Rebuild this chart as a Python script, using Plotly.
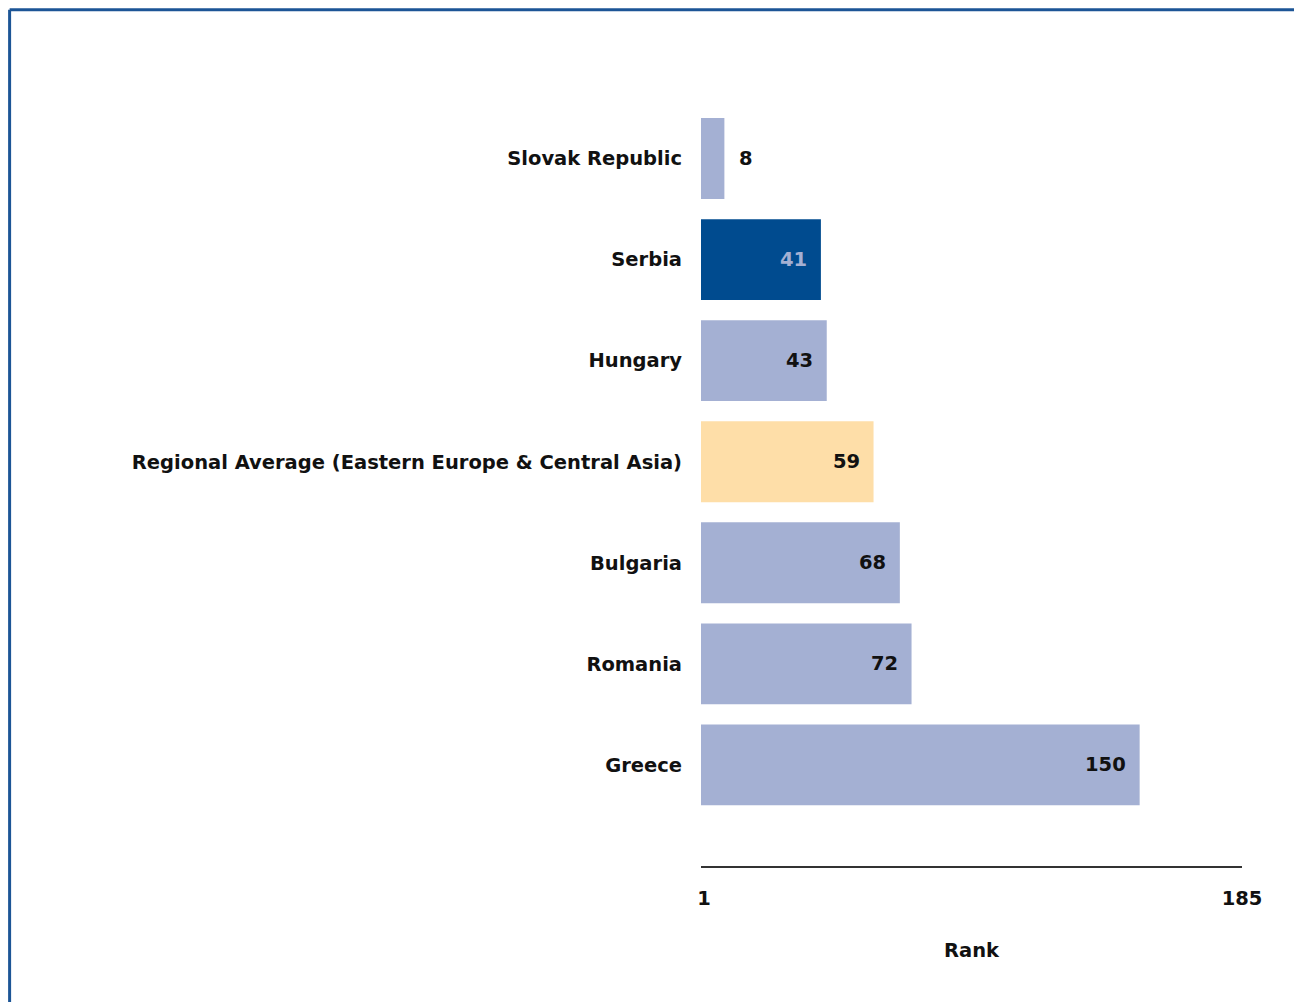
import plotly.graph_objects as go

# Ranking data (bottom to top)
countries = ["Greece", "Romania", "Bulgaria",
             "Regional Average (Eastern Europe & Central Asia)",
             "Hungary", "Serbia", "Slovak Republic"]
ranks = [150, 72, 68, 59, 43, 41, 8]
bar_colors = ["#a4b0d3", "#a4b0d3", "#a4b0d3", "#fedea8",
              "#a4b0d3", "#004b8f", "#a4b0d3"]
label_colors = ["#111111", "#111111", "#111111", "#111111",
                "#111111", "#a4b0d3", "#111111"]
tick_vals = [1, 185]
tick_text = ["<b>1</b>", "<b>185</b>"]

FONT = "DejaVu Sans"
SIZE = 19.5

fig = go.Figure()

fig.add_trace(go.Bar(
    y=countries,
    x=ranks,
    orientation='h',
    width=0.8,
    marker=dict(color=bar_colors, line=dict(width=0)),
    hoverinfo='skip'
))

# value labels
for c, r, col in zip(countries, ranks, label_colors):
    inside = r > 20
    fig.add_annotation(
        x=r, y=c, xref='x', yref='y',
        text="<b>%d</b>" % r,
        showarrow=False,
        xanchor='right' if inside else 'left',
        xshift=-12 if inside else 13,
        font=dict(family=FONT, size=SIZE, color=col)
    )

# frame around the picture
fig.add_shape(type='line', xref='paper', yref='paper',
              x0=-1.278, x1=1.2, y0=1.1295, y1=1.1295,
              line=dict(color="#1c5596", width=3))
fig.add_shape(type='line', xref='paper', yref='paper',
              x0=-1.278, x1=-1.278, y0=-0.2, y1=1.1295,
              line=dict(color="#1c5596", width=3))

fig.update_layout(
    width=1294,
    height=994,
    margin=dict(l=693, r=60, t=100, b=136),
    plot_bgcolor='white',
    paper_bgcolor='white',
    showlegend=False,
    font=dict(family=FONT, size=SIZE, color="#111111"),
    bargap=0.2,
    xaxis=dict(
        range=[0, 185],
        tickvals=tick_vals,
        ticktext=tick_text,
        showgrid=False,
        zeroline=False,
        showline=True,
        linecolor="#333333",
        linewidth=2,
        ticks='',
        ticklabelstandoff=14,
        title=dict(text="<b>Rank</b>", standoff=34,
                   font=dict(family=FONT, size=SIZE)),
        fixedrange=True
    ),
    yaxis=dict(
        categoryorder='array',
        categoryarray=countries,
        range=[-1.0, 6.5],
        showgrid=False,
        zeroline=False,
        showline=False,
        ticks='',
        ticklabelstandoff=18,
        tickfont=dict(family=FONT, size=SIZE, weight='bold'),
        fixedrange=True
    )
)

fig.write_html("out.html")
